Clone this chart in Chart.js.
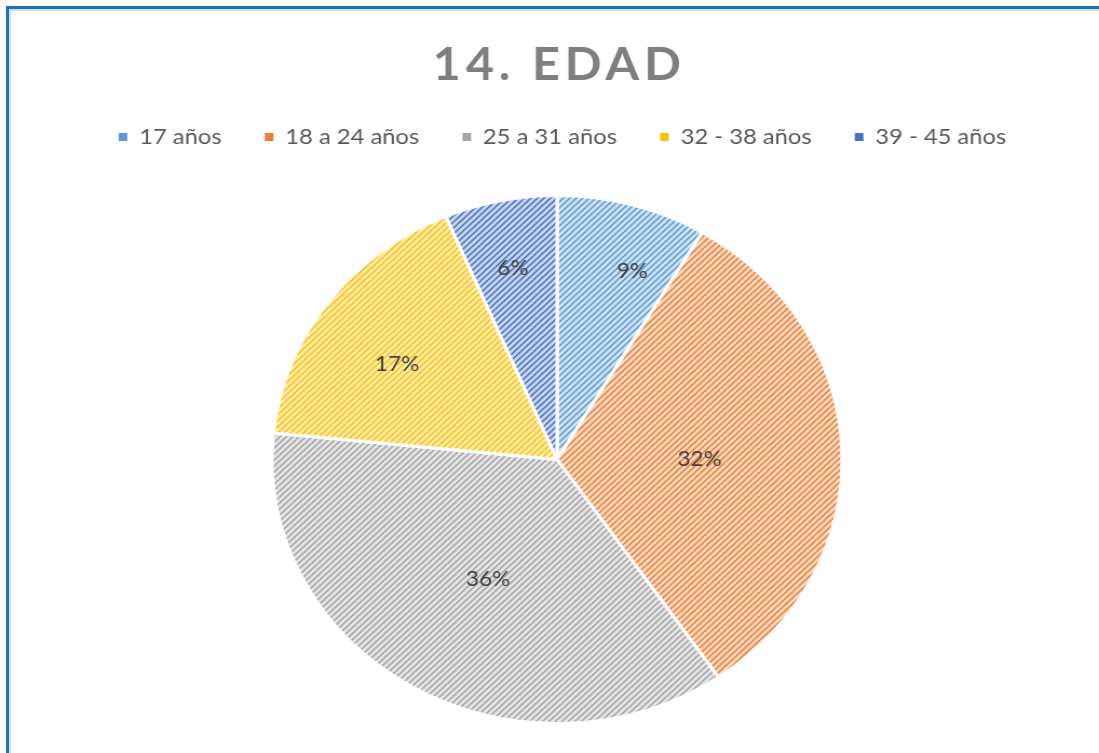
<!DOCTYPE html>
<html><head><meta charset="utf-8">
<script src="https://cdn.jsdelivr.net/npm/chart.js@4/dist/chart.umd.min.js"></script>
<style>
html,body{margin:0;padding:0;background:#fff;overflow:hidden;width:1099px;height:753px;}
#frame{position:absolute;left:6px;top:6px;width:1200px;height:900px;border-left:3px solid #1672C6;border-top:3px solid #1672C6;}
#inner{position:absolute;left:0;top:0;width:100%;height:100%;border-left:2px solid #DCDCDC;border-top:2px solid #DCDCDC;}
#wrap{position:absolute;left:0;top:0;width:1018px;height:753px;transform:scaleX(1.0796);transform-origin:0 0;}
</style></head>
<body>
<div id="frame"><div id="inner"></div></div>
<div id="wrap"><canvas id="c"></canvas></div>
<script>
const chartTitle = '14. EDAD';
const categories = ['17 años', '18 a 24 años', '25 a 31 años', '32 - 38 años', '39 - 45 años'];
const counts = [4, 15, 17, 8, 3];
const colors = ['#5B9BD5', '#ED7D31', '#A5A5A5', '#FFC000', '#4472C4'];

// label placement styling (fraction of radius, angular shift in degrees)
const labelRadius = [0.76, 0.5, 0.515, 0.667, 0.74];
const labelShift = [5, 1.9, -2.6, -3.7, -0.6];

function hatch(color) {
  const s = 6;
  const c = document.createElement('canvas');
  c.width = s; c.height = s;
  const x = c.getContext('2d');
  x.fillStyle = color; x.fillRect(0, 0, s, s);
  x.fillStyle = 'rgba(255,255,255,0.7)'; x.fillRect(0, 0, s, s);
  x.strokeStyle = color; x.lineWidth = 1.5;
  x.beginPath();
  x.moveTo(-1, s + 1); x.lineTo(s + 1, -1);
  x.moveTo(-1, 1); x.lineTo(1, -1);
  x.moveTo(s - 1, s + 1); x.lineTo(s + 1, s - 1);
  x.stroke();
  return x.createPattern(c, 'repeat');
}

const legendGap = {
  id: 'legendGap',
  beforeInit(chart) {
    const lg = chart.legend;
    if (!lg) return;
    const fit = lg.fit;
    lg.fit = function () { fit.call(this); this.height += 15; };
  },
  afterLayout(chart) {
    if (chart.legend) { chart.legend.left += 5; chart.legend.right += 5; }
  }
};

const titlePlugin = {
  id: 'customTitle',
  afterDraw(chart) {
    const ctx = chart.ctx;
    ctx.save();
    ctx.font = 'bold 45px Lato';
    ctx.fillStyle = '#7F7F7F';
    ctx.textAlign = 'center';
    ctx.textBaseline = 'alphabetic';
    try { ctx.letterSpacing = '4.5px'; } catch (e) {}
    const cx = (chart.chartArea.left + chart.chartArea.right) / 2 + 2;
    ctx.fillText(chartTitle, cx, 80);
    ctx.restore();
  }
};

const labelPlugin = {
  id: 'pctLabels',
  afterDatasetsDraw(chart) {
    const ctx = chart.ctx;
    const meta = chart.getDatasetMeta(0);
    const total = counts.reduce((a, b) => a + b, 0);
    ctx.save();
    ctx.font = '21px Lato';
    ctx.fillStyle = '#404040';
    ctx.textAlign = 'center';
    ctx.textBaseline = 'middle';
    meta.data.forEach((arc, i) => {
      const p = arc.getProps(['x', 'y', 'startAngle', 'endAngle', 'outerRadius'], true);
      const mid = (p.startAngle + p.endAngle) / 2 + labelShift[i] * Math.PI / 180;
      const r = p.outerRadius * labelRadius[i];
      ctx.fillText(Math.round(counts[i] / total * 100) + '%', p.x + Math.cos(mid) * r, p.y + Math.sin(mid) * r);
    });
    ctx.restore();
  }
};

new Chart(document.getElementById('c'), {
  type: 'pie',
  data: {
    labels: categories,
    datasets: [{
      data: counts,
      backgroundColor: colors.map(hatch),
      borderColor: '#ffffff',
      borderWidth: 3,
      radius: 264,
      hoverOffset: 0
    }]
  },
  options: {
    responsive: true,
    maintainAspectRatio: false,
    animation: false,
    layout: { padding: { top: 86, left: 14, right: 0, bottom: 7 } },
    plugins: {
      title: { display: false },
      tooltip: { enabled: false },
      legend: {
        position: 'top',
        labels: {
          font: { family: 'Lato', size: 22 },
          color: '#595959',
          boxWidth: 8,
          boxHeight: 8,
          padding: 40,
          generateLabels(chart) {
            const items = Chart.overrides.pie.plugins.legend.labels.generateLabels(chart);
            items.forEach((it, i) => { it.fillStyle = colors[i]; it.strokeStyle = colors[i]; it.lineWidth = 0; });
            return items;
          }
        }
      }
    }
  },
  plugins: [legendGap, titlePlugin, labelPlugin]
});
</script>
</body></html>
